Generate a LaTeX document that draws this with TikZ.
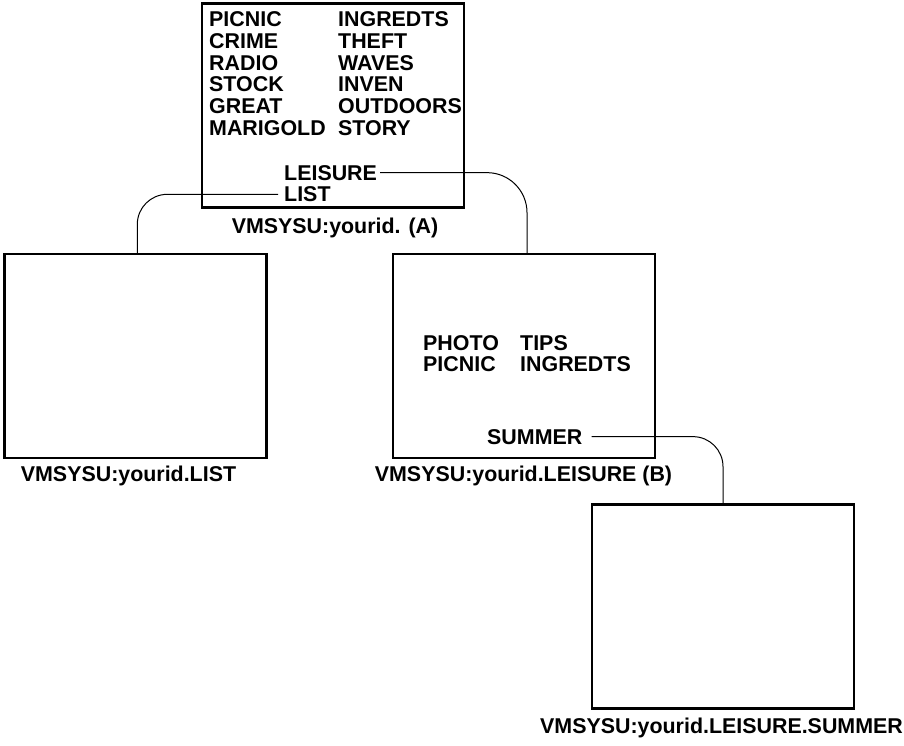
\documentclass[tikz,border=0pt]{standalone}
\usepackage{fontspec}
\setmainfont{Liberation Sans}
\usetikzlibrary{positioning}
\begin{document}
\begin{tikzpicture}[x=1pt, y=-1pt,
    every node/.style={inner sep=0pt, font=\fontsize{21.4}{22}\selectfont\bfseries},
    dirbox/.style={draw, line width=2.5pt, minimum width=262pt, minimum height=204pt},
    word/.style={anchor=base west},
    caption/.style={anchor=base},
    link/.style={line width=1pt, rounded corners=30pt}]
    \useasboundingbox (0,0) rectangle (904,745);

    % Katalogi
    \node[dirbox] (boxA) at (333,105.5) {};
    \node[dirbox] (boxL) at (135.3,356) {};
    \node[dirbox] (boxB) at (524,356) {};
    \node[dirbox] (boxC) at (723,606.5) {};

    % Pliki w katalogu A
    \foreach \a/\b [count=\i] in {PICNIC/INGREDTS, CRIME/THEFT, RADIO/WAVES,
                                  STOCK/INVEN, GREAT/OUTDOORS, MARIGOLD/STORY} {
        \node[word] (a\i) at (209, 5+21.7*\i) {\a};
        \node[word] (b\i) at (338, 5+21.7*\i) {\b};
    }
    \node[word] (lei) at (284,180) {LEISURE};
    \node[word] (lst) at (284,201.7) {LIST};

    % Pliki w katalogu B
    \node[word] (photo) at (423,350) {PHOTO};
    \node[word] (tips) at (520,350) {TIPS};
    \node[word] (picnic) at (423,371.7) {PICNIC};
    \node[word] (ingr) at (520,371.7) {INGREDTS};
    \node[word] (sum) at (487,444) {SUMMER};

    % Podpisy
    \node[caption] (capA) at (335,233) {VMSYSU:yourid. (A)};
    \node[caption] (capL) at (128.5,481) {VMSYSU:yourid.LIST};
    \node[caption] (capB) at (523.5,481) {VMSYSU:yourid.LEISURE (B)};
    \node[caption] (capC) at (721.5,733) {VMSYSU:yourid.LEISURE.SUMMER};

    % Polaczenia
    \draw[link, rounded corners=40pt] ([xshift=3pt]lei.east) -| ([xshift=3pt]boxB.north);
    \draw[link] ([xshift=-6pt]lst.west) -| ([xshift=2pt]boxL.north);
    \draw[link] ([xshift=9pt]sum.east) -| (boxC.north);
\end{tikzpicture}
\end{document}
